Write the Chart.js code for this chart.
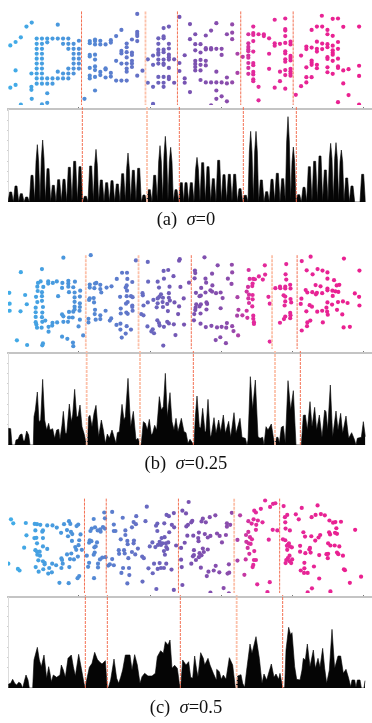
<!DOCTYPE html>
<html><head><meta charset="utf-8">
<style>
html,body{margin:0;padding:0;background:#fff;width:372px;height:723px;overflow:hidden}
canvas{position:absolute;left:0}
.cap{position:absolute;left:0;width:372px;text-align:center;font-family:"Liberation Serif",serif;font-size:18.5px;line-height:18px;color:#111;white-space:pre}
</style>
<script src="https://cdn.jsdelivr.net/npm/chart.js@4"></script>
</head><body>
<script>
const captions=[["(a)  ","=0"],["(b)  ","=0.25"],["(c)  ","=0.5"]];
const xTicks=[235,450,664,877,1091];
const rulesA=[247,441,538,730,889];
const rulesB=[260,420,580,825,901];
const rulesC=[256,322,541,710,848];

const pointsA=[[96,60],[80,73],[175,67],[63,108],[47,123],[31,134],[47,215],[47,262],[31,271],[95,268],[95,278],[96,307],[63,326],[127,325],[143,320],[143,289],[256,307],[288,280],
[111,112],[127,112],[143,112],[159,112],[175,112],[191,112],[207,112],[111,129],[127,129],[143,124],[191,129],[207,129],[223,129],[111,145],[127,145],[207,145],[223,145],[239,145],[111,161],[127,161],[223,161],[239,161],[111,177],[127,177],[223,177],[239,177],[111,193],[127,193],[223,193],[239,193],[111,209],[127,209],[207,209],[223,209],[239,209],[95,225],[111,225],[127,225],[175,219],[191,225],[207,225],[223,225],[111,241],[127,241],[143,241],[159,241],[175,241],[191,241],[207,241],[111,258],[127,258],[143,258],[159,258],[239,119],
[272,120],[272,127],[288,115],[288,120],[288,131],[304,119],[304,131],[320,131],[336,117],[336,125],[352,104],[368,84],[384,128],[384,140],[368,152],[368,160],[384,156],[400,157],[400,165],[384,173],[352,184],[368,193],[384,193],[400,184],[400,193],[400,204],[384,209],[384,219],[416,232],[432,216],[272,165],[272,170],[288,164],[288,180],[272,207],[288,202],[288,214],[304,220],[304,230],[320,208],[320,212],[336,223],[320,238],[336,235],[272,232],[272,241],[288,236],[352,248],[368,248],[384,248],[400,115],[416,90],[416,97],[416,104],[416,120],[416,32],
[496,78],[512,73],[480,111],[496,105],[496,111],[480,129],[512,129],[480,148],[496,148],[480,158],[480,164],[496,156],[512,144],[512,164],[512,172],[464,167],[448,179],[480,180],[496,180],[512,180],[528,179],[464,197],[480,193],[496,193],[496,197],[512,207],[544,191],[544,217],[480,236],[496,236],[512,236],[512,243],[448,255],[464,268],[480,255],[496,255],[496,268],[528,255],[464,323],[544,42],
[576,65],[656,62],[704,66],[640,86],[592,98],[624,102],[688,98],[704,93],[576,114],[704,114],[592,130],[608,130],[592,150],[608,157],[624,143],[624,147],[640,143],[640,147],[656,145],[672,145],[672,165],[720,161],[560,166],[592,184],[608,181],[624,184],[592,194],[592,204],[608,197],[624,199],[592,215],[608,215],[656,219],[720,223],[608,246],[624,254],[640,254],[656,254],[672,254],[688,257],[688,238],[704,254],[560,241],[560,255],[576,285],[656,280],[672,299],[656,307],[688,315],[640,328],[736,171],
[768,73],[833,51],[865,47],[865,81],[865,86],[865,104],[753,98],[768,94],[768,100],[784,98],[800,98],[800,104],[816,111],[768,120],[753,127],[833,127],[833,135],[849,129],[865,126],[881,122],[881,131],[753,139],[753,147],[753,153],[768,154],[816,161],[865,153],[865,160],[753,167],[753,174],[881,168],[881,175],[881,183],[865,179],[865,187],[753,191],[768,191],[768,198],[753,207],[816,210],[849,219],[865,214],[865,230],[881,210],[881,218],[881,225],[881,232],[753,226],[768,220],[768,228],[768,244],[768,250],[784,268],[849,250],[833,271],[865,274],[784,312],
[976,38],[1009,48],[1025,47],[961,73],[977,73],[945,84],[993,84],[1041,74],[1089,73],[993,98],[1009,103],[961,122],[977,128],[993,130],[993,140],[1025,123],[1009,135],[1025,145],[929,138],[929,146],[945,141],[961,145],[961,154],[977,146],[1009,150],[1009,158],[1009,164],[913,167],[993,172],[993,178],[1009,184],[1025,177],[945,183],[945,190],[945,197],[929,205],[961,197],[961,208],[993,205],[1025,202],[1025,207],[1041,215],[1057,211],[1089,200],[993,221],[1009,226],[929,237],[945,237],[929,254],[913,266],[1041,257],[897,294],[1057,295],[1025,318],[1089,233],[1089,326]];

const pointsB=[[192,28],[275,20],[63,75],[127,65],[28,142],[76,149],[29,177],[81,179],[29,200],[62,202],[51,296],[82,311],[128,312],[130,306],[188,284],[204,291],[221,303],[222,315],[252,280],
[115,110],[123,105],[113,122],[131,123],[114,136],[127,140],[109,155],[127,153],[113,172],[127,168],[130,188],[108,190],[108,205],[128,206],[127,221],[108,220],[108,237],[110,245],[112,255],[126,255],[137,232],[128,236],[146,105],[146,112],[160,110],[172,105],[189,110],[207,103],[207,112],[227,106],[188,126],[207,122],[222,124],[209,140],[226,141],[243,135],[176,153],[226,157],[242,154],[226,171],[242,176],[226,187],[226,196],[242,188],[241,200],[209,204],[222,203],[188,212],[192,218],[220,222],[209,222],[192,236],[206,236],[173,238],[159,239],[158,248],[147,252],[147,268],[242,229],[238,251],
[272,115],[272,125],[288,112],[292,110],[304,116],[286,127],[304,130],[307,141],[323,125],[338,121],[354,97],[370,77],[385,77],[386,97],[401,107],[384,118],[381,125],[385,135],[272,160],[270,165],[284,159],[285,173],[288,197],[287,211],[304,215],[320,200],[304,227],[290,229],[268,226],[268,238],[333,232],[337,225],[364,155],[384,153],[397,153],[402,156],[366,193],[382,177],[387,172],[401,183],[401,188],[402,200],[383,206],[387,210],[366,209],[353,246],[365,242],[384,250],[365,261],[397,261],[381,274],[369,287],[412,37],
[448,42],[496,71],[510,68],[526,88],[449,106],[478,106],[497,96],[482,125],[514,122],[547,123],[432,143],[433,150],[512,143],[488,147],[483,155],[478,160],[494,158],[465,165],[448,173],[435,183],[512,158],[515,167],[507,178],[529,173],[478,176],[493,172],[475,189],[494,188],[509,201],[543,186],[428,211],[435,215],[540,211],[477,231],[482,240],[484,248],[497,252],[507,236],[512,241],[527,244],[447,251],[463,260],[459,267],[467,273],[532,279],[495,313],[545,33],[543,38],[557,160],[558,245],
[620,27],[660,53],[703,51],[591,70],[592,78],[704,76],[643,80],[590,95],[623,96],[691,96],[573,109],[625,109],[644,118],[702,113],[610,126],[594,142],[609,151],[605,153],[623,141],[638,134],[643,138],[655,143],[669,141],[675,159],[720,156],[595,179],[609,179],[626,173],[628,178],[593,190],[605,186],[626,196],[669,192],[592,198],[608,209],[589,211],[723,197],[719,216],[735,215],[588,231],[608,242],[624,253],[641,249],[658,254],[672,252],[688,240],[686,255],[704,250],[708,266],[722,280],[668,286],[654,295],[685,305],
[754,68],[803,53],[804,83],[785,89],[757,97],[768,97],[773,98],[797,99],[766,112],[765,120],[752,123],[748,138],[755,148],[753,160],[766,149],[755,175],[766,163],[765,186],[748,200],[750,223],[768,216],[768,226],[770,237],[770,243],[814,155],[818,177],[818,300],[868,49],[866,82],[868,99],[880,116],[835,127],[849,122],[850,127],[865,122],[865,128],[881,128],[860,150],[865,154],[881,162],[883,173],[865,170],[863,183],[880,207],[881,215],[880,224],[865,219],[861,227],[849,239],
[942,25],[915,39],[1043,31],[930,69],[963,65],[978,70],[993,76],[948,82],[993,96],[1013,101],[957,117],[972,121],[1029,116],[1021,118],[993,128],[993,134],[1008,135],[1017,137],[1026,139],[927,133],[932,141],[947,140],[961,142],[958,147],[977,143],[1009,152],[914,161],[912,178],[939,182],[946,187],[993,173],[1007,180],[1025,172],[1040,170],[1054,175],[1076,144],[1089,155],[1090,183],[929,202],[962,203],[977,200],[990,190],[992,203],[994,213],[1022,197],[1038,212],[941,232],[932,238],[931,250],[979,238],[1042,254],[1061,252],[915,264],[1090,70]];

const pointsC=[[33,82],[40,95],[78,94],[105,97],[112,98],[122,100],[143,102],[159,102],[172,109],[194,98],[209,88],[213,97],[237,99],[232,104],[107,118],[130,118],[128,122],[203,117],[185,126],[215,123],[219,130],[206,137],[244,131],[80,134],[104,143],[110,142],[130,143],[112,160],[130,170],[143,178],[73,174],[218,152],[240,150],[238,166],[228,172],[231,181],[248,181],[107,182],[112,187],[120,187],[113,197],[121,200],[203,196],[216,193],[236,203],[224,212],[212,211],[186,209],[188,214],[116,215],[130,218],[135,223],[135,228],[158,226],[170,231],[186,240],[210,237],[190,226],[108,237],[131,244],[149,240],[117,252],[146,258],[157,254],[54,243],[59,248],[240,266],[235,273],[180,288],[208,289],[25,226],
[316,60],[340,58],[284,81],[318,79],[372,77],[413,72],[405,91],[441,88],[345,99],[288,108],[278,112],[274,120],[296,118],[305,122],[312,107],[318,112],[304,115],[345,120],[350,120],[380,118],[412,98],[400,108],[380,133],[366,147],[272,150],[277,153],[270,158],[294,157],[290,170],[286,173],[386,152],[387,163],[406,151],[405,160],[418,177],[360,182],[376,182],[378,193],[361,194],[400,188],[410,196],[389,208],[431,203],[436,208],[287,190],[284,197],[263,200],[320,205],[310,206],[303,212],[340,211],[270,223],[267,236],[297,226],[297,238],[333,228],[328,232],[345,231],[373,240],[391,240],[368,256],[392,263],[285,273],[386,290],[432,284],[474,308],[527,311],
[445,41],[505,68],[512,72],[527,62],[477,96],[473,103],[498,95],[521,100],[528,108],[477,120],[513,124],[499,140],[490,143],[484,155],[462,157],[479,165],[454,170],[471,172],[488,165],[493,160],[503,160],[510,157],[504,172],[507,178],[534,167],[549,175],[497,185],[500,197],[467,226],[484,224],[497,240],[504,226],[478,243],[488,240],[450,241],[463,257],[520,245],[549,213],[553,54],[551,237],[553,295],
[572,26],[564,63],[653,69],[636,75],[615,80],[583,87],[580,92],[611,89],[624,92],[570,100],[565,105],[688,95],[698,100],[688,106],[703,61],[728,69],[603,125],[568,135],[586,135],[621,130],[630,141],[638,136],[658,128],[666,136],[685,133],[601,143],[602,153],[560,158],[673,157],[720,149],[630,180],[588,182],[615,177],[618,188],[605,192],[611,199],[588,198],[585,202],[603,205],[594,214],[580,226],[720,216],[609,239],[654,233],[694,228],[648,248],[632,252],[665,254],[695,255],[690,258],[627,266],[678,305],[638,320],[694,322],
[804,21],[791,48],[771,54],[776,60],[835,30],[828,32],[819,42],[753,88],[769,82],[782,86],[796,92],[763,96],[777,100],[776,116],[827,116],[841,118],[753,123],[746,133],[758,140],[764,147],[747,155],[754,160],[760,162],[751,175],[771,185],[756,194],[745,212],[770,214],[776,214],[768,230],[766,237],[815,148],[741,262],[780,293],[818,286],[811,318],
[860,39],[915,45],[963,37],[871,68],[864,75],[897,66],[906,82],[945,75],[957,68],[973,65],[985,69],[865,92],[999,86],[1010,93],[1017,91],[1034,90],[866,112],[879,118],[920,124],[1020,111],[998,124],[1001,131],[1016,126],[1022,129],[1077,116],[925,138],[944,137],[971,133],[966,141],[956,151],[858,147],[865,150],[876,160],[873,165],[879,170],[870,168],[885,173],[871,181],[995,160],[1002,167],[1015,167],[1029,170],[910,168],[910,187],[926,192],[940,175],[938,180],[942,190],[968,198],[990,195],[995,194],[994,208],[1022,190],[1026,195],[1040,200],[878,200],[873,208],[868,214],[886,212],[878,218],[866,224],[883,224],[923,223],[923,241],[912,248],[922,256],[933,256],[952,235],[1043,244],[1046,247],[968,274],[1061,288],[946,306],[933,319],[1002,316],[1095,268]];

const histA=[[24,0],[29,30],[35,30],[40,0],[45,48],[51,48],[56,0],[61,25],[67,25],[72,0],[77,15],[83,15],[88,0],[93,80],[99,80],[104,3],[108,120],[112,172],[116,120],[120,4],[124,130],[128,186],[132,130],[136,3],[141,100],[147,100],[152,0],[157,50],[163,50],[168,0],[173,67],[179,67],[184,2],[189,68],[195,68],[200,0],[205,104],[211,104],[216,2],[221,122],[227,122],[232,2],[237,106],[243,106],[248,0],[253,17],[259,17],[264,0],[269,108],[275,108],[280,2],[284,110],[288,158],[292,110],[296,1],[301,66],[307,66],[312,1],[317,58],[323,58],[328,1],[333,64],[339,64],[344,1],[349,54],[355,54],[360,0],[365,85],[371,85],[376,2],[380,100],[384,147],[388,100],[392,2],[397,95],[403,95],[408,2],[413,101],[419,101],[424,0],[429,21],[435,21],[440,0],[445,37],[451,37],[456,0],[461,80],[467,80],[472,2],[476,120],[480,169],[484,120],[488,5],[492,140],[496,197],[500,140],[504,5],[508,120],[512,164],[516,120],[520,0],[525,37],[531,37],[536,0],[541,58],[547,58],[551,0],[555,58],[561,58],[566,0],[571,58],[577,58],[582,0],[587,100],[591,134],[595,100],[600,2],[605,118],[611,118],[616,2],[621,106],[627,106],[632,0],[637,70],[643,70],[648,0],[653,125],[659,125],[664,2],[669,82],[675,82],[680,2],[685,83],[691,83],[696,2],[701,83],[707,83],[712,0],[717,40],[723,40],[728,0],[733,20],[739,20],[744,0],[748,150],[752,212],[756,150],[760,3],[764,150],[768,212],[772,150],[776,0],[781,66],[787,66],[792,0],[797,31],[803,31],[808,0],[813,68],[819,68],[824,2],[829,86],[835,86],[840,0],[845,70],[851,70],[856,2],[860,180],[864,256],[868,180],[872,8],[876,120],[880,165],[884,120],[888,0],[893,22],[899,22],[904,0],[909,44],[915,44],[920,1],[925,106],[931,106],[936,2],[941,122],[947,122],[952,4],[957,138],[963,138],[968,2],[973,96],[979,96],[984,3],[988,130],[992,176],[996,130],[1000,4],[1004,130],[1008,178],[1012,130],[1016,4],[1020,120],[1024,156],[1028,120],[1032,0],[1037,72],[1043,72],[1048,0],[1053,48],[1059,48],[1064,0],[1072,0],[1080,0],[1085,83],[1091,83],[1096,0]];

const histB=[[24,0],[26,50],[32,49],[36,0],[45,0],[48,15],[54,17],[60,31],[66,33],[70,13],[74,13],[80,42],[86,30],[90,0],[100,0],[102,85],[106,105],[112,159],[117,70],[122,75],[128,197],[134,75],[140,45],[146,65],[150,45],[158,49],[164,20],[170,45],[176,47],[180,17],[186,60],[190,101],[196,35],[200,35],[208,123],[214,70],[218,90],[224,167],[230,85],[234,85],[240,120],[246,55],[252,35],[260,0],[262,0],[266,85],[270,89],[276,55],[282,95],[288,119],[296,25],[304,75],[310,45],[316,5],[322,33],[328,20],[336,45],[342,25],[348,5],[352,37],[358,40],[366,122],[372,75],[376,85],[384,200],[392,55],[400,101],[408,15],[414,20],[420,0],[424,5],[430,70],[436,65],[442,45],[448,77],[454,30],[458,35],[464,59],[470,45],[478,145],[484,105],[490,115],[496,215],[502,85],[510,157],[516,70],[522,45],[528,80],[534,40],[544,80],[552,40],[558,37],[564,5],[570,17],[578,5],[582,0],[586,85],[591,147],[598,55],[602,50],[608,110],[615,40],[618,45],[624,137],[631,25],[634,30],[642,82],[648,35],[656,75],[662,40],[670,90],[676,35],[686,71],[692,23],[702,97],[708,35],[720,80],[726,23],[736,20],[741,0],[744,15],[751,205],[758,107],[766,195],[774,25],[780,20],[788,23],[792,0],[798,55],[804,45],[814,63],[820,23],[824,0],[830,23],[834,23],[838,5],[844,53],[850,57],[856,5],[864,193],[872,105],[880,163],[888,0],[898,0],[904,0],[910,89],[916,90],[922,45],[930,130],[936,55],[944,113],[950,45],[958,90],[966,23],[974,105],[978,100],[983,45],[991,180],[998,25],[1008,102],[1014,45],[1022,95],[1028,35],[1038,87],[1046,20],[1055,37],[1063,17],[1068,0],[1072,20],[1078,22],[1084,23],[1090,70],[1096,25]];

const histC=[[24,0],[26,12],[32,14],[38,26],[44,14],[50,9],[56,17],[62,14],[68,0],[74,24],[78,39],[84,24],[88,0],[98,0],[102,84],[112,122],[118,84],[124,64],[132,99],[140,29],[146,64],[150,44],[154,19],[160,39],[170,32],[180,39],[184,69],[190,54],[196,32],[204,89],[214,99],[220,64],[226,36],[236,101],[244,59],[252,14],[256,0],[260,24],[268,62],[276,74],[284,107],[292,86],[298,79],[306,72],[316,82],[322,0],[326,4],[332,24],[342,87],[350,29],[356,14],[362,32],[368,54],[376,99],[390,99],[396,54],[404,100],[412,69],[420,14],[426,34],[434,44],[444,36],[456,36],[466,44],[472,94],[482,112],[490,104],[496,139],[504,129],[510,144],[516,59],[524,68],[532,59],[538,14],[542,0],[548,84],[558,69],[566,79],[572,32],[578,29],[584,96],[590,54],[594,34],[602,106],[610,89],[614,69],[624,89],[630,69],[640,44],[648,26],[650,56],[658,49],[664,26],[670,39],[678,26],[688,91],[698,69],[706,0],[708,0],[713,36],[723,40],[728,14],[734,2],[740,54],[750,132],[756,104],[768,154],[778,89],[786,14],[792,42],[800,24],[814,72],[822,32],[828,42],[836,26],[840,44],[848,0],[854,2],[858,114],[866,182],[872,159],[876,166],[884,64],[890,26],[900,24],[906,54],[910,89],[916,84],[922,132],[930,64],[940,114],[946,59],[954,89],[960,62],[968,119],[974,59],[980,14],[988,54],[996,176],[1004,59],[1014,96],[1022,96],[1030,44],[1038,56],[1046,29],[1052,4],[1056,24],[1064,24],[1068,2],[1072,24],[1080,24],[1084,0],[1092,0],[1095,22]];

const layout=[
 {top:0,h:109,rt:24,ch:[106,96],mx:279,pts:pointsA,hist:histA,rules:rulesA,wide:[441],cap:210},
 {top:245,h:108,rt:20,ch:[350,95],mx:276,pts:pointsB,hist:histB,rules:rulesB,wide:[260,420,825],cap:454},
 {top:490,h:107,rt:15,ch:[594,94],mx:273,pts:pointsC,hist:histC,rules:rulesC,wide:[710],cap:698}
];
const stops=[[0,[63,176,234]],[200,[74,150,220]],[400,[98,116,200]],[550,[118,84,178]],[700,[140,76,172]],[735,[190,60,165]],[765,[226,42,156]],[1116,[236,30,142]]];
function colorAt(x){
  for(let i=1;i<stops.length;i++){ if(x<=stops[i][0]){const a=stops[i-1],b=stops[i],t=(x-a[0])/(b[0]-a[0]);
    const c=a[1].map((v,k)=>Math.round(v+(b[1][k]-v)*t));return `rgb(${c.join(',')})`;}}
  return 'rgb(236,30,142)';
}
function addCanvas(top,h){const c=document.createElement('canvas');c.width=372;c.height=h;c.style.top=top+'px';c.style.width='372px';c.style.height=h+'px';document.body.appendChild(c);return c;}
function ruleSets(p,y0,y1){
  return p.rules.map(x=>{const w=p.wide.includes(x);return {type:'line',order:0,clip:false,data:[{x,y:y0},{x,y:y1}],
    borderColor:w?'rgba(252,190,165,.95)':'rgba(242,105,75,.95)',borderWidth:w?1.8:1,borderDash:[3,1],pointRadius:0,fill:false};});
}
const base={responsive:false,animation:false,events:[],plugins:{legend:{display:false},tooltip:{enabled:false}}};
layout.forEach((p,i)=>{
  new Chart(addCanvas(p.top,p.h),{type:'scatter',
    data:{datasets:[{order:1,data:p.pts.map(a=>({x:a[0],y:a[1]})),pointRadius:2.1,pointBorderWidth:0,
      pointBackgroundColor:c=>colorAt(c.raw?c.raw.x:0)},...ruleSets(p,p.rt,p.h*3)]},
    options:{...base,layout:{padding:{left:8}},scales:{
      x:{type:'linear',display:false,min:24,max:1116},
      y:{type:'linear',display:false,reverse:true,min:0,max:p.h*3}}}});
  new Chart(addCanvas(p.ch[0],p.ch[1]),{type:'line',
    data:{datasets:[{order:1,data:p.hist.map(a=>({x:a[0],y:a[1]})),borderColor:'#050505',backgroundColor:'#050505',borderWidth:0.6,
      borderJoinStyle:'round',pointRadius:0,fill:'origin',tension:0},...ruleSets(p,0,p.mx+6)]},
    options:{...base,scales:{
      x:{type:'linear',position:'top',min:24,max:1116,
        afterBuildTicks:s=>{s.ticks=xTicks.map(v=>({value:v}));},
        afterFit:s=>{s.height=3;},
        ticks:{display:false},
        border:{color:'#c4c4c4',width:2},
        grid:{drawOnChartArea:false,drawTicks:true,tickLength:2,color:'#777'}},
      y:{type:'linear',position:'left',min:0,max:p.mx,
        afterFit:s=>{s.width=8;},
        afterBuildTicks:s=>{const t=[];for(let v=61;v<p.mx;v+=30.7)t.push({value:v});s.ticks=t;},
        ticks:{display:false},
        border:{color:'#dcdcdc',width:1},
        grid:{drawOnChartArea:false,drawTicks:true,tickLength:1,color:'#cfcfcf'}}}}});
  const d=document.createElement('div');d.className='cap';d.style.top=p.cap+'px';
  d.append(captions[i][0]);const s=document.createElement('i');s.textContent='σ';d.append(s);d.append(captions[i][1]);
  document.body.appendChild(d);
});
</script>
</body></html>
